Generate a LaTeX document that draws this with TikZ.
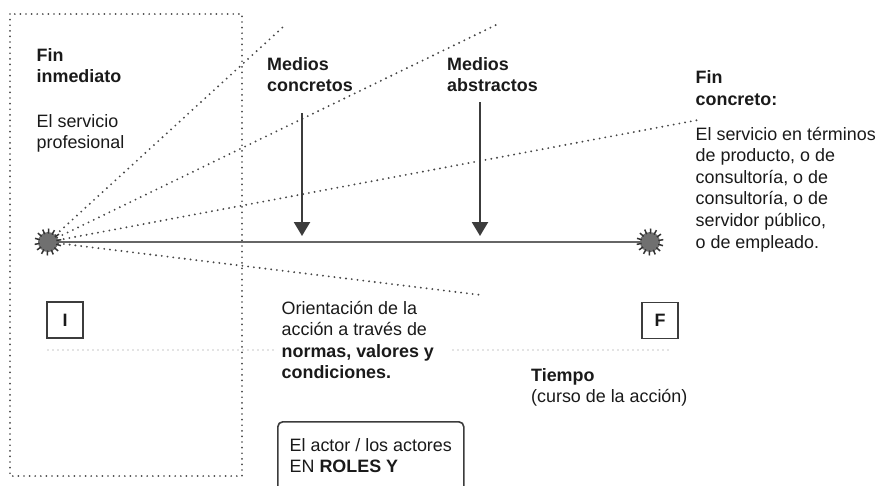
\documentclass[tikz,border=0pt]{standalone}
\usepackage{fontspec}
\setmainfont{Liberation Sans}
\usetikzlibrary{arrows.meta}
\definecolor{txt}{HTML}{1A1A1A}
\definecolor{ln}{HTML}{3C3C3C}
\definecolor{axisc}{HTML}{666666}
\definecolor{dotc}{HTML}{474747}
\definecolor{lightdot}{HTML}{8C8C8C}
\definecolor{starfill}{HTML}{707070}
\begin{document}
\begin{tikzpicture}[x=1pt,y=-1pt,
  lbl/.style={anchor=base west, inner sep=0pt, text=txt, font=\fontsize{17.9}{21.6}\selectfont},
  ray/.style={draw=dotc, line width=2.1pt, line cap=round, dash pattern=on 0pt off 5.8pt},
  rectdot/.style={draw=dotc, line width=1.9pt, line cap=round, dash pattern=on 0pt off 5.6pt},
  hdot/.style={draw=lightdot, line width=1.4pt, line cap=round, dash pattern=on 0pt off 5pt},
  axisline/.style={draw=axisc, line width=1.3pt},
  arr/.style={draw=ln, line width=2.2pt, -{Triangle[width=16pt,length=14pt]}},
  sqbox/.style={draw=ln, line width=1.6pt, minimum size=36pt, inner sep=0pt, text=txt, font=\fontsize{17.9}{21.6}\selectfont\bfseries},
  actorbox/.style={draw=ln, line width=1.6pt, rounded corners=5pt, minimum width=186pt, minimum height=75pt, anchor=north west, inner sep=0pt},
  stardisk/.style={circle, fill=starfill, minimum size=20pt, inner sep=0pt},
  spike/.style={draw=black!80, line width=1.5pt}
]
\useasboundingbox (0,0) rectangle (881,485);
\clip (0,0) rectangle (881,485);
\fill[white] (0,0) rectangle (881,485);

% dotted frame
\draw[rectdot] (10,14) rectangle (242,476);

% stars
\node[stardisk] (si) at (48,242) {};
\node[stardisk] (sf) at (650,242) {};

% rays from the initial star
\coordinate (r1) at (283,27);
\coordinate (r2) at (498,24);
\coordinate (r3) at (698,120);
\coordinate (r4) at (481,295);
\draw[ray] (si) -- (r1);
\draw[ray] (si) -- (r2);
\draw[ray] (si) -- (r3);
\draw[ray] (si) -- (r4);

% time axis
\draw[axisline] (si) -- (sf);

% star spikes
\foreach \s in {si,sf}{
  \foreach \a in {0,25.714,...,340}{
    \draw[spike] (\s.center) ++(\a+10:8.5pt) -- ++(\a+10:5pt);
  }
}

% arrows
\coordinate (a1s) at (302,113);
\coordinate (a1e) at (302,236);
\coordinate (a2s) at (480,102);
\coordinate (a2e) at (480,236);
\draw[arr] (a1s) -- (a1e);
\draw[arr] (a2s) -- (a2e);

% horizontal dotted line
\coordinate (h1) at (48,350);
\coordinate (h2) at (273,350);
\coordinate (h3) at (453,350);
\coordinate (h4) at (668,350);
\draw[hdot] (h1) -- (h2);
\draw[hdot] (h3) -- (h4);

% boxes I and F
\node[sqbox] (bi) at (65,320) {I};
\node[sqbox] (bf) at (660,320.5) {F};

% actor box
\node[actorbox] (actor) at (277,421) {};

% labels
\node[lbl, font=\fontsize{17.9}{21}\selectfont\bfseries] (finin) at (36.5,61.5) {\vtop{\hbox{Fin}\hbox{inmediato}}};
\node[lbl] (serv) at (36.5,127) {\vtop{\hbox{El servicio}\hbox{profesional}}};
\node[lbl, font=\fontsize{17.9}{21.6}\selectfont\bfseries] (mc) at (267,70) {\vtop{\hbox{Medios}\hbox{concretos}}};
\node[lbl, font=\fontsize{17.9}{21.6}\selectfont\bfseries] (ma) at (447,70) {\vtop{\hbox{Medios}\hbox{abstractos}}};
\node[lbl, font=\fontsize{17.9}{21.6}\selectfont\bfseries] (finc) at (695.5,83.5) {\vtop{\hbox{Fin}\hbox{concreto:}}};
\node[lbl] (servc) at (695.5,140) {\vtop{\hbox{El servicio en términos}\hbox{de producto, o de}\hbox{consultoría, o de}\hbox{consultoría, o de}\hbox{servidor público,}\hbox{o de empleado.}}};
\node[lbl] (orient) at (281.5,314) {\vtop{\hbox{Orientación de la}\hbox{acción a través de}\hbox{\bfseries normas, valores y}\hbox{\bfseries condiciones.}}};
\node[lbl] (tiempo) at (531,381) {\vtop{\hbox{\bfseries Tiempo}\hbox{(curso de la acción)}}};
\node[lbl] (actortxt) at (289.5,451) {\vtop{\hbox{El actor / los actores}\hbox{EN \textbf{ROLES Y}}}};
\end{tikzpicture}
\end{document}
